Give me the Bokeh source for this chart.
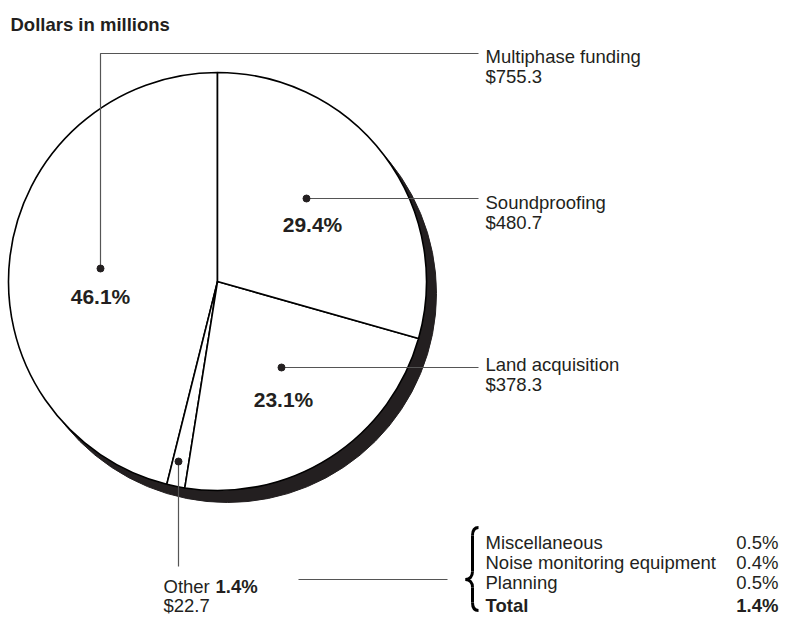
import numpy as np
from bokeh.plotting import figure
from bokeh.models import Range1d
from bokeh.core.properties import value
from bokeh.embed import file_html
from bokeh.resources import INLINE

# ---- data ----
categories = ["Multiphase funding", "Other", "Land acquisition", "Soundproofing"]
shares = [46.1, 1.4, 23.1, 29.4]
amounts = [755.3, 22.7, 378.3, 480.7]
other_items = ["Miscellaneous", "Noise monitoring equipment", "Planning"]
other_shares = [0.5, 0.4, 0.5]
other_total = 1.4
title = "Dollars in millions"

# ---- layout (picture pixel coords) ----
W, H = 781, 617
def Y(py):
    return H - py

FONT = value("Liberation Sans")
INK = "#231f20"
LEAD = "#555555"
cx, cy, r = 217, 281, 209
shadow_dx, shadow_dy = 10, 12

p = figure(width=W, height=H, x_range=Range1d(0, W), y_range=Range1d(0, H),
           output_backend="svg", toolbar_location=None, min_border=0,
           x_axis_type=None, y_axis_type=None)
p.outline_line_color = None
p.grid.visible = False
p.background_fill_color = "white"

# shadow
p.circle(x=[cx + shadow_dx], y=[Y(cy + shadow_dy)], radius=r, fill_color=INK,
         line_color=INK)

# pie wedges
frac = np.array(shares) / sum(shares)
cum = np.concatenate([[0], np.cumsum(frac)])
start = np.pi / 2 + 2 * np.pi * cum[:-1]
end = np.pi / 2 + 2 * np.pi * cum[1:]
p.wedge(x=cx, y=Y(cy), radius=r, start_angle=start, end_angle=end,
        direction="anticlock", fill_color="white", line_color="black", line_width=1.6)

# title
p.text(x=[10], y=[Y(24)], text=[title], text_font=FONT, text_font_size="18.5px",
       text_font_style="bold", text_color=INK, text_baseline="alphabetic")

def txt(x, py, s, size="18.5px", bold=False, align="left"):
    p.text(x=[x], y=[Y(py)], text=[s], text_font=FONT, text_font_size=size,
           text_font_style="bold" if bold else "normal", text_color=INK,
           text_baseline="alphabetic", text_align=align)

label_x = 485
leaders = {
    "Multiphase funding": dict(dot=(100, 268), path=[(100, 268), (100, 53), (478, 53)],
                               pct=(100, 296), lab=56),
    "Soundproofing": dict(dot=(306, 198), path=[(306, 198), (478, 198)],
                          pct=(312, 224), lab=202),
    "Land acquisition": dict(dot=(281, 367), path=[(281, 367), (478, 367)],
                             pct=(283, 399), lab=364),
    "Other": dict(dot=(178, 461), path=[(178, 461), (178, 566)], pct=None, lab=None),
}

for cat, sh, amt in zip(categories, shares, amounts):
    L = leaders[cat]
    xs = [pt[0] for pt in L["path"]]
    ys = [Y(pt[1]) for pt in L["path"]]
    p.line(xs, ys, line_color=LEAD, line_width=1.2)
    p.scatter([L["dot"][0]], [Y(L["dot"][1])], size=7, color=INK)
    if L["pct"] is not None:
        txt(L["pct"][0], L["pct"][1], f"{sh}%", size="21px", bold=True, align="center")
        txt(label_x, L["lab"], cat)
        txt(label_x, L["lab"] + 20, f"${amt}")
    else:
        txt(163, 586, "Other ")
        txt(215, 586, f"{sh}%", bold=True)
        txt(163, 605, f"${amt}")
        p.line([298, 447], [Y(579), Y(579)], line_color=LEAD, line_width=1.2)

# brace
bx, tip, top, bot, mid = 472, 465, 527, 610, 579
bw = 3
p.bezier(x0=[478, bx, bx, 478], y0=[Y(top), Y(mid - 8), Y(mid + 8), Y(bot)],
         x1=[bx, tip, tip, bx], y1=[Y(top + 8), Y(mid), Y(mid), Y(bot - 8)],
         cx0=[474, bx, bx, 474], cy0=[Y(top), Y(mid - 3), Y(mid + 3), Y(bot)],
         cx1=[bx, 469, 469, bx], cy1=[Y(top + 3), Y(mid), Y(mid), Y(bot - 3)],
         line_color="black", line_width=bw)
p.segment(x0=[bx, bx], y0=[Y(top + 8), Y(mid + 8)], x1=[bx, bx], y1=[Y(mid - 8), Y(bot - 8)],
          line_color="black", line_width=bw)

# table
val_x = 778
row_y = [542, 562, 582]
for name, v, py in zip(other_items, other_shares, row_y):
    txt(label_x, py, name)
    txt(val_x, py, f"{v}%", align="right")
txt(label_x, 605, "Total", bold=True)
txt(val_x, 605, f"{other_total}%", bold=True, align="right")

open("out.html", "w").write(file_html(p, INLINE))
